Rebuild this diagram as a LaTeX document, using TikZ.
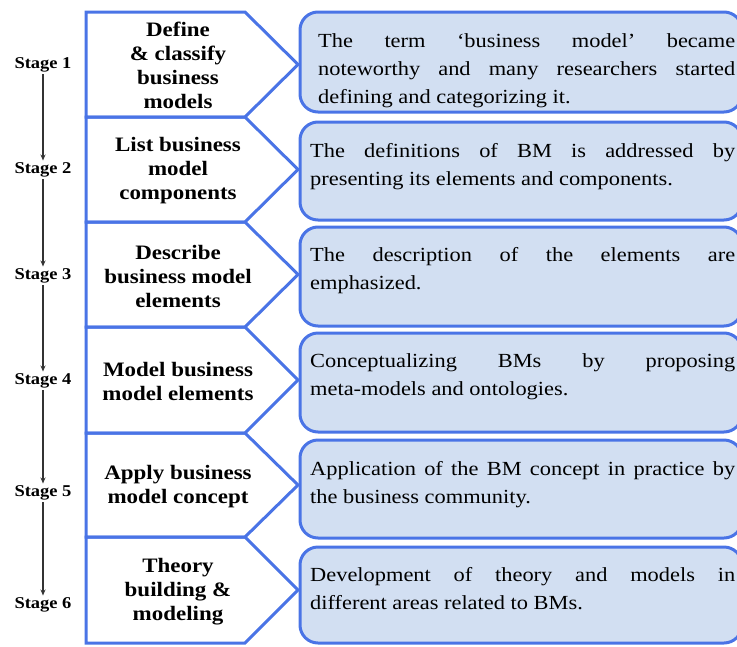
\documentclass[tikz,border=0pt]{standalone}
\usepackage{fontspec}
\setmainfont{Liberation Serif}[FakeStretch=1.12]
\usetikzlibrary{arrows.meta}
\definecolor{bord}{HTML}{4A74E6}
\definecolor{boxfill}{HTML}{D2DFF2}
\definecolor{arr}{HTML}{333333}
\newcommand{\jtext}[2]{\parbox[t]{#1}{\rightskip=0pt\relax \leftskip=0pt\relax \spaceskip=0pt\relax \xspaceskip=0pt\relax \parfillskip=0pt plus 1fil\relax \parindent=0pt\relax \hyphenpenalty=10000\relax \exhyphenpenalty=10000\relax #2\par}}
\tikzset{
  penta/.style={draw=bord, line width=3pt, line join=miter},
  rbox/.style={draw=bord, fill=boxfill, line width=3pt, rounded corners=18pt},
  ptext/.style={align=center, inner sep=0pt, font=\bfseries\fontsize{20.5}{24}\selectfont},
  btext/.style={anchor=north west, inner sep=0pt, font=\fontsize{20}{28}\selectfont},
  stagelbl/.style={inner sep=2pt, font=\bfseries\fontsize{16.5}{18}\selectfont},
  stagearr/.style={draw=arr, line width=1.2pt, -{Stealth[length=6pt,width=5pt]}}
}
\begin{document}
\begin{tikzpicture}[x=1pt,y=-1pt]
\useasboundingbox (0,0) rectangle (737,646);
\clip (0,0) rectangle (737,646);
% pentagons
\foreach \t/\b in {12/117,117/222,222/327,327/433,433/537,537/643}
  \draw[penta] (86,\t) -- (245,\t) -- (298,{(\t+\b)/2}) -- (245,\b) -- (86,\b) -- cycle;
% right boxes
\draw[rbox] (300,12) rectangle (742,112);
\draw[rbox] (300,122) rectangle (742,220);
\draw[rbox] (300,227) rectangle (742,326);
\draw[rbox] (300,333) rectangle (742,432);
\draw[rbox] (300,440) rectangle (742,538);
\draw[rbox] (300,547) rectangle (742,643);
% pentagon labels
\node[ptext] (p1) at (178,65) {Define\\\& classify\\business\\models};
\node[ptext] (p2) at (178,171) {List business\\model\\components};
\node[ptext] (p3) at (178,276) {Describe\\business model\\elements};
\node[ptext] (p4) at (178,381) {Model business\\model elements};
\node[ptext] (p5) at (178,487) {Apply business\\model concept};
\node[ptext] (p6) at (178,592) {Theory\\building \&\\modeling};
% box texts
\node[btext] (t1) at (318,33) {\jtext{417pt}{The term ‘business model’ became\linebreak noteworthy and many researchers started\linebreak defining and categorizing it.}};
\node[btext] (t2) at (310,143) {\jtext{425pt}{The definitions of BM is addressed by\linebreak presenting its elements and components.}};
\node[btext] (t3) at (310,247) {\jtext{425pt}{The description of the elements are\linebreak emphasized.}};
\node[btext] (t4) at (310,353) {\jtext{425pt}{Conceptualizing BMs by proposing\linebreak meta-models and ontologies.}};
\node[btext] (t5) at (310,461) {\jtext{425pt}{Application of the BM concept in practice by\linebreak the business community.}};
\node[btext] (t6) at (310,567) {\jtext{425pt}{Development of theory and models in\linebreak different areas related to BMs.}};
% stages
\node[stagelbl] (s1) at (43,65) {Stage 1};
\node[stagelbl] (s2) at (43,170) {Stage 2};
\node[stagelbl] (s3) at (43,276) {Stage 3};
\node[stagelbl] (s4) at (43,381) {Stage 4};
\node[stagelbl] (s5) at (43,493) {Stage 5};
\node[stagelbl] (s6) at (43,605) {Stage 6};
\draw[stagearr] (s1) -- (s2);
\draw[stagearr] (s2) -- (s3);
\draw[stagearr] (s3) -- (s4);
\draw[stagearr] (s4) -- (s5);
\draw[stagearr] (s5) -- (s6);
\end{tikzpicture}
\end{document}
